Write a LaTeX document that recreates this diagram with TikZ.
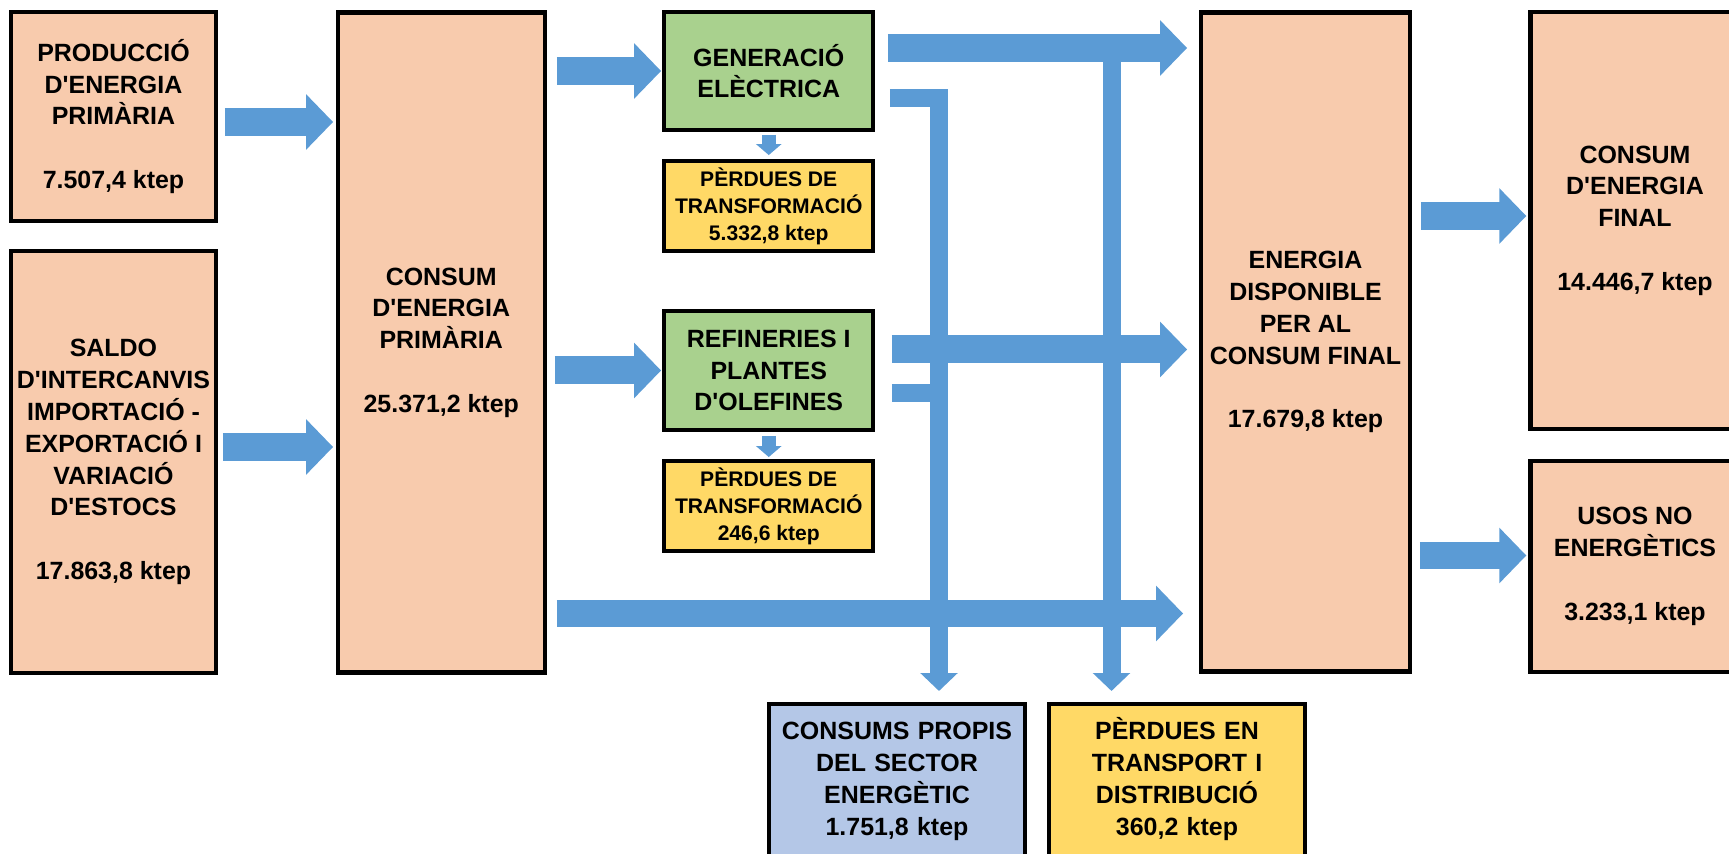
\documentclass[tikz,border=0pt]{standalone}
\usepackage{fontspec}
\newfontfamily\boxfont{Liberation Sans}
\usetikzlibrary{calc,arrows.meta}

\definecolor{peach}{HTML}{F8CBAD}
\definecolor{leaf}{HTML}{A9D18E}
\definecolor{sand}{HTML}{FFD966}
\definecolor{sky}{HTML}{B4C7E7}
\definecolor{flowblue}{HTML}{5B9BD5}

\tikzset{
  box/.style={draw=black, line width=2.5pt, inner sep=0pt, align=center,
    font=\boxfont\bfseries\fontsize{14.2}{18.1}\selectfont},
  small/.style={font=\boxfont\bfseries\fontsize{12}{15.4}\selectfont},
  flow/.style={draw=flowblue, line width=0.56cm, -{Triangle[length=0.54cm,width=1.08cm]}},
  branch/.style={draw=flowblue, line width=0.36cm, line join=miter, -{Triangle[length=0.36cm,width=0.73cm]}},
  drop/.style={draw=flowblue, line width=0.28cm, -{Triangle[length=0.22cm,width=0.5cm]}},
}

\begin{document}
\begin{tikzpicture}[x=0.02cm,y=-0.02cm]

\useasboundingbox (0,0) rectangle (1729,854);
\clip (0,0) rectangle (1729,854);

% primary energy
\node[box, fill=peach, minimum width=4.09cm, minimum height=4.17cm] (prod) at (113.5,116.5)
  {PRODUCCIÓ\\D'ENERGIA\\PRIMÀRIA\\[18.1pt]7.507,4 ktep};
\node[box, fill=peach, minimum width=4.09cm, minimum height=8.43cm] (saldo) at (113.5,462)
  {SALDO\\D'INTERCANVIS\\IMPORTACIÓ -\\EXPORTACIÓ I\\VARIACIÓ\\D'ESTOCS\\[18.1pt]17.863,8 ktep};
\node[box, fill=peach, minimum width=4.14cm, minimum height=13.21cm] (primaria) at (441.25,342.5)
  {CONSUM\\D'ENERGIA\\PRIMÀRIA\\[18.1pt]25.371,2 ktep};

% transformation
\node[box, fill=leaf, minimum width=4.18cm, minimum height=2.35cm] (gener) at (768.75,71)
  {GENERACIÓ\\ELÈCTRICA};
\node[box, small, fill=sand, minimum width=4.18cm, minimum height=1.79cm] (perdgen) at (768.75,206)
  {PÈRDUES DE\\TRANSFORMACIÓ\\5.332,8 ktep};
\node[box, fill=leaf, minimum width=4.18cm, minimum height=2.37cm] (refin) at (768.75,370.5)
  {REFINERIES I\\PLANTES\\D'OLEFINES};
\node[box, small, fill=sand, minimum width=4.18cm, minimum height=1.79cm] (perdref) at (768.75,506)
  {PÈRDUES DE\\TRANSFORMACIÓ\\246,6 ktep};

% final energy
\node[box, fill=peach, minimum width=4.17cm, minimum height=13.19cm] (dispon) at (1305.5,342)
  {ENERGIA\\DISPONIBLE\\PER AL\\CONSUM FINAL\\[18.1pt]17.679,8 ktep};
\node[box, fill=peach, minimum width=4.18cm, minimum height=8.33cm] (final) at (1635,220.5)
  {CONSUM\\D'ENERGIA\\FINAL\\[18.1pt]14.446,7 ktep};
\node[box, fill=peach, minimum width=4.18cm, minimum height=4.21cm] (usos) at (1635,566.5)
  {USOS NO\\ENERGÈTICS\\[18.1pt]3.233,1 ktep};

% sector losses
\node[box, fill=sky, anchor=north, inner ysep=0.27cm, text width=5.11cm, text depth=4cm] (propis) at (897,702)
  {\vphantom{È}CONSUMS PROPIS\\DEL SECTOR\\ENERGÈTIC\\1.751,8 ktep};
\node[box, fill=sand, anchor=north, inner ysep=0.27cm, text width=5.11cm, text depth=4cm] (transp) at (1177,702)
  {PÈRDUES EN\\TRANSPORT I\\DISTRIBUCIÓ\\360,2 ktep};

% into primary consumption
\coordinate (p1) at ($(prod.east)+(7,5.5)$);
\coordinate (p2) at ($(saldo.east)+(5,-15)$);
\draw[flow] (p1) -- ([xshift=-0.05cm]p1 -| primaria.west);
\draw[flow] (p2) -- ([xshift=-0.05cm]p2 -| primaria.west);

% primary consumption out
\draw[flow] ([xshift=0.2cm]primaria.east |- gener.west) -- ([xshift=-0.02cm]gener.west);
\draw[flow] ([xshift=0.16cm]primaria.east |- refin.west) -- ([xshift=-0.02cm]refin.west);
\coordinate (p5) at ($(primaria.east)+(10,271)$);
\draw[flow] (p5) -- ([xshift=-0.32cm]p5 -| dispon.west);

% transformation out
\coordinate (g1) at ($(gener.east)+(12.5,-23)$);
\coordinate (r1) at ($(refin.east)+(16.5,-21)$);
\coordinate (r2) at ($(refin.east)+(16.5,22.5)$);
\draw[flow] (g1) -- ([xshift=-0.24cm]g1 -| dispon.west);
\draw[flow] (r1) -- ([xshift=-0.24cm]r1 -| dispon.west);
\draw[drop] ([yshift=-0.06cm]gener.south) -- ([yshift=0.08cm]perdgen.north);
\draw[drop] ([yshift=-0.08cm]refin.south) -- ([yshift=0.04cm]perdref.north);

% own use and transport losses
\coordinate (k1) at ([shift={(42,-11)}]propis.north);
\coordinate (k2) at ([shift={(-65.5,-11)}]transp.north);
\draw[branch] ($(gener.east)+(14.5,27)$) -| (k1);
\draw[draw=flowblue, line width=0.36cm] (r2) -- (r2 -| k1);
\draw[branch] (g1 -| k2) -- (k2);

% final uses
\coordinate (d1) at ($(dispon.east)+(9,-126)$);
\coordinate (d2) at ($(dispon.east)+(8,213.5)$);
\draw[flow] (d1) -- ([xshift=-0.04cm]d1 -| final.west);
\draw[flow] (d2) -- ([xshift=-0.04cm]d2 -| usos.west);

\end{tikzpicture}
\end{document}
